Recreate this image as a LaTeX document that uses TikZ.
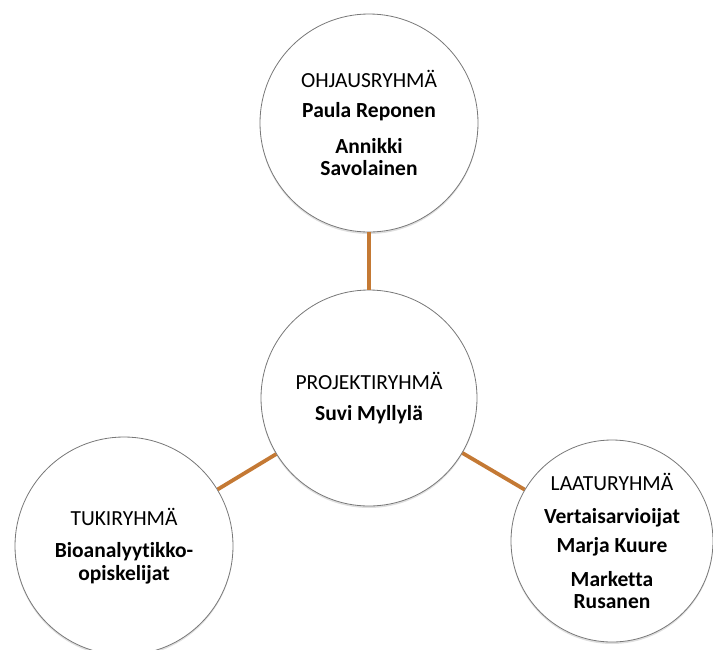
\documentclass[tikz,border=0pt]{standalone}
\usepackage{fontspec}
\setmainfont[Ligatures=NoCommon]{Carlito}
\usetikzlibrary{shadows}
\definecolor{linkcol}{RGB}{196,121,52}
\definecolor{rimcol}{RGB}{120,120,120}
\tikzset{
  bubble/.style={circle, draw=rimcol, line width=0.8pt, fill=white, inner sep=0pt,
    align=center, font=\fontsize{21.5}{22.5}\selectfont,
    drop shadow={opacity=0.25, shadow xshift=0pt, shadow yshift=-2pt}},
  link/.style={draw=linkcol, line width=3.8pt}
}
\begin{document}
\begin{tikzpicture}[x=1pt,y=-1pt]
\useasboundingbox (0,0) rectangle (713,649);
\node[bubble, minimum size=218pt] (top) at (369,123)
  {OHJAUSRYHMÄ\\[8pt]\textbf{Paula Reponen}\\[13pt]\textbf{Annikki}\\\textbf{Savolainen}};
\node[bubble, minimum size=216pt] (mid) at (369,398)
  {PROJEKTIRYHMÄ\\[9pt]\textbf{Suvi Myllylä}};
\node[bubble, minimum size=218pt] (left) at (124,546)
  {TUKIRYHMÄ\\[10pt]\textbf{Bioanalyytikko-}\\\textbf{opiskelijat}};
\node[bubble, minimum size=202pt] (right) at (612,541)
  {LAATURYHMÄ\\[10pt]\textbf{Vertaisarvioijat}\\[7pt]\textbf{Marja Kuure}\\[11pt]\textbf{Marketta}\\\textbf{Rusanen}};
\draw[link] (top) -- (mid);
\draw[link] (mid) -- (left);
\draw[link] (mid) -- (right);
\end{tikzpicture}
\end{document}
